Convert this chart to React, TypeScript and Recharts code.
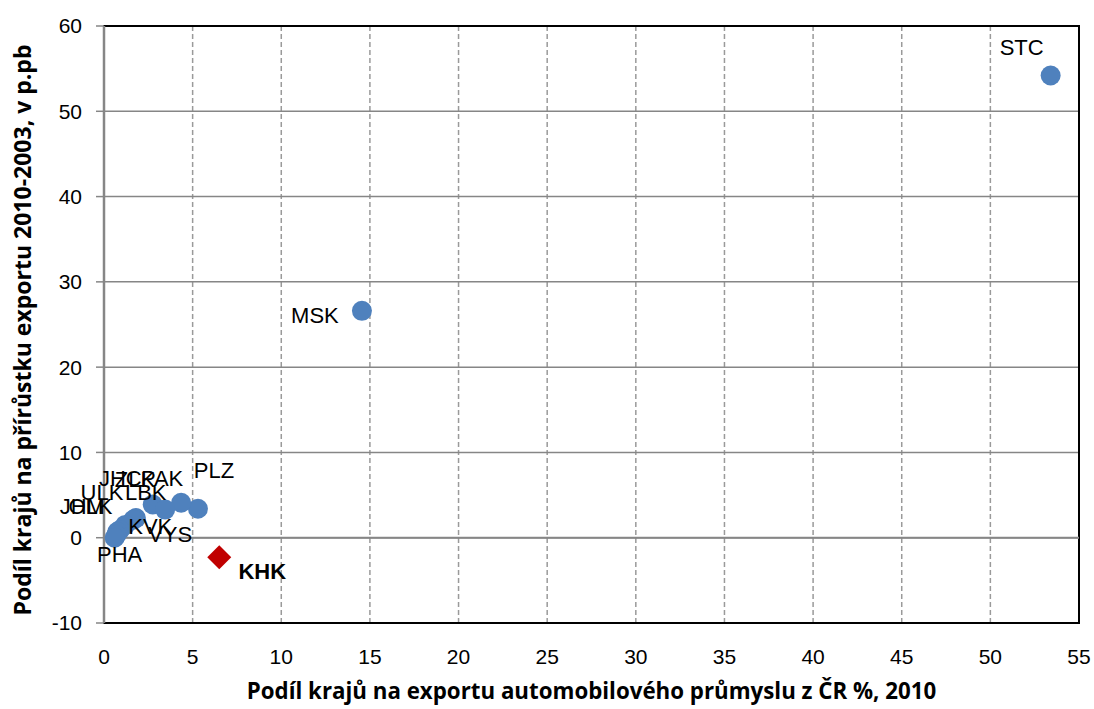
import { ScatterChart, Scatter, XAxis, YAxis, CartesianGrid, ReferenceLine, ReferenceArea, Label } from "recharts";

// kraje ČR: podíl na exportu automobilového průmyslu (x) a na přírůstku exportu (y)
const regions = ["STC", "MSK", "PLZ", "PAK", "LBK", "VYS", "ZLK", "KVK", "JHC", "ULK", "JHM", "OLK", "PHA"];
const exportShare = [53.4, 14.55, 5.3, 4.35, 2.75, 3.45, 1.8, 1.65, 1.2, 0.9, 0.75, 0.7, 0.6];
const growthShare = [54.2, 26.6, 3.4, 4.1, 3.9, 3.3, 2.3, 2.1, 1.5, 0.9, 0.7, 0.35, 0.0];

const highlightRegions = ["KHK"];
const highlightExport = [6.5];
const highlightGrowth = [-2.3];

const xTicks = [0, 5, 10, 15, 20, 25, 30, 35, 40, 45, 50, 55];
const yTicks = [-10, 0, 10, 20, 30, 40, 50, 60];

const points = regions.map((name, i) => ({ name, x: exportShare[i], y: growthShare[i] }));
const highlight = highlightRegions.map((name, i) => ({ name, x: highlightExport[i], y: highlightGrowth[i] }));

// where each data label sits relative to its marker (hand-placed in the original)
const labelOffset: Record<string, [number, number]> = {
  STC: [-29, -28],
  MSK: [-47, 5],
  PLZ: [16, -38],
  PAK: [-19, -24],
  LBK: [-7, -12],
  VYS: [5, 25],
  ZLK: [-1, -39],
  KVK: [17, 7],
  JHC: [-5, -46],
  ULK: [-18, -38],
  JHM: [-35, -25],
  OLK: [-26, -28],
  PHA: [5, 17],
  KHK: [43, 14],
};

const FONT = "'Liberation Sans', Arial, sans-serif";
const TITLE_FONT = "'Open Sans', 'Liberation Sans', sans-serif";

const Dot = (props: any) => <circle cx={props.cx} cy={props.cy} r={10} fill="#4F81BD" />;

const Diamond = (props: any) => {
  const { cx, cy } = props;
  const s = 12;
  return <polygon points={`${cx},${cy - s} ${cx + s},${cy} ${cx},${cy + s} ${cx - s},${cy}`} fill="#C00000" />;
};

const PointLabel = (props: any) => {
  const { cx, cy, payload } = props;
  const [dx, dy] = labelOffset[payload.name] ?? [15, 0];
  return (
    <text
      x={cx + dx}
      y={cy + dy}
      textAnchor="middle"
      dominantBaseline="central"
      fontFamily={FONT}
      fontSize={22}
      fontWeight={payload.name === "KHK" ? 700 : 400}
      fill="#000"
    >
      {payload.name}
    </text>
  );
};

const XTitle = (props: any) => {
  const vb = props.viewBox;
  return (
    <text
      x={vb.x + vb.width / 2}
      y={690}
      textAnchor="middle"
      dominantBaseline="central"
      fontFamily={TITLE_FONT}
      fontSize={22.3}
      fontWeight={700}
      fill="#000"
    >
      Podíl krajů na exportu automobilového průmyslu z ČR %, 2010
    </text>
  );
};

const YTitle = () => (
  <text
    x={22}
    y={330}
    transform="rotate(-90, 22, 330)"
    textAnchor="middle"
    dominantBaseline="central"
    fontFamily={TITLE_FONT}
    fontSize={23}
    fontWeight={700}
    fill="#000"
  >
    Podíl krajů na přírůstku exportu 2010-2003, v p.pb
  </text>
);

export default function App() {
  return (
    <div style={{ position: "absolute", left: 0, top: 0, width: 1094, height: 709, background: "#fff" }}>
      <ScatterChart width={1094} height={709} margin={{ top: 26, right: 15, bottom: 0, left: 0 }}>
        <CartesianGrid horizontal={false} stroke="#9a9a9a" strokeDasharray="5 3" strokeWidth={1.5} />
        <CartesianGrid vertical={false} stroke="#868686" strokeWidth={1.5} />
        <ReferenceArea x1={0} x2={55} y1={-10} y2={60} fill="none" stroke="#000" strokeWidth={2} />
        <ReferenceLine y={0} stroke="#868686" strokeWidth={2} />
        <XAxis
          type="number"
          dataKey="x"
          domain={[0, 55]}
          ticks={xTicks}
          interval={0}
          height={86}
          axisLine={false}
          tickLine={false}
          tickSize={0}
          tickMargin={26}
          tick={{ fontFamily: FONT, fontSize: 21, fill: "#000" }}
        >
          <Label content={XTitle} />
        </XAxis>
        <YAxis
          type="number"
          dataKey="y"
          domain={[-10, 60]}
          ticks={yTicks}
          interval={0}
          width={104}
          axisLine={{ stroke: "#868686", strokeWidth: 2.5 }}
          tickLine={{ stroke: "#868686", strokeWidth: 1.5 }}
          tickSize={8}
          tickMargin={14}
          tick={{ fontFamily: FONT, fontSize: 21, fill: "#000" }}
        >
          <Label content={YTitle} />
        </YAxis>
        <Scatter data={points} shape={Dot} isAnimationActive={false} />
        <Scatter data={highlight} shape={Diamond} isAnimationActive={false} />
        <Scatter data={points} shape={PointLabel} isAnimationActive={false} />
        <Scatter data={highlight} shape={PointLabel} isAnimationActive={false} />
      </ScatterChart>
    </div>
  );
}
